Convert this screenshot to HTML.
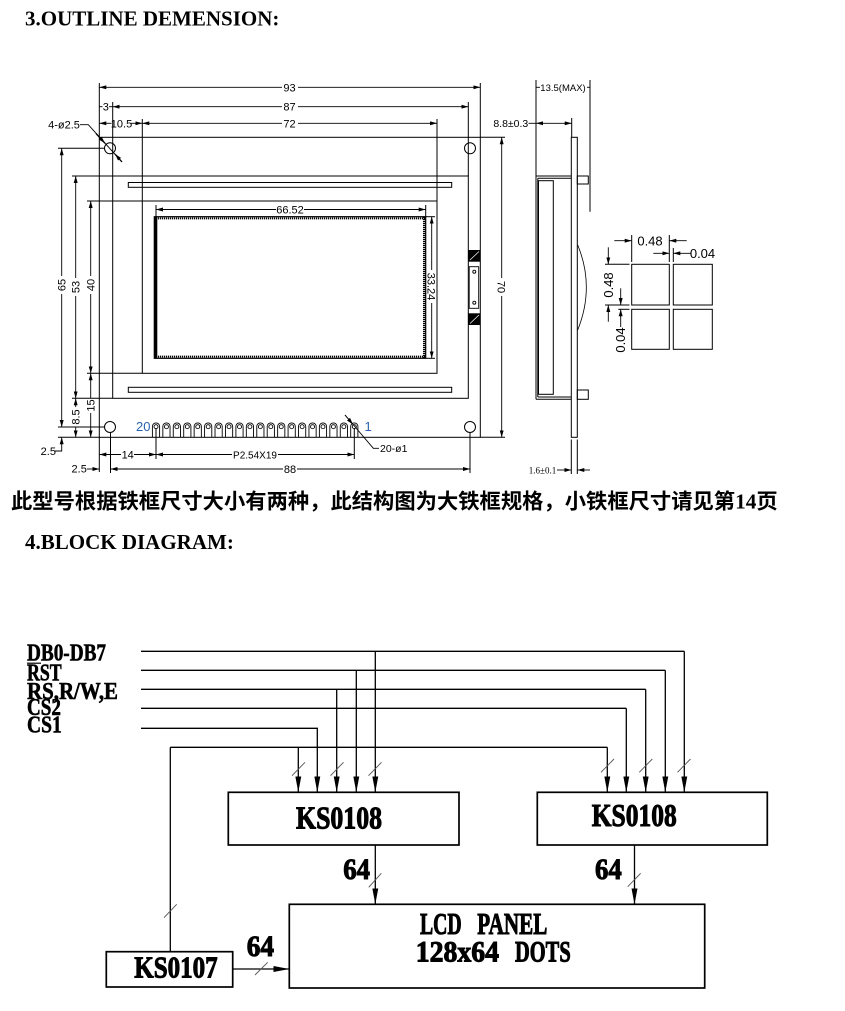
<!DOCTYPE html>
<html><head><meta charset="utf-8"><style>
html,body{margin:0;padding:0;background:#fff;}
svg{display:block;}
.t{font-family:"Liberation Sans",sans-serif;fill:#000;}
.s{font-family:"Liberation Serif","Noto Sans CJK SC",serif;font-weight:bold;fill:#000;}
</style></head><body>
<svg width="845" height="1011" viewBox="0 0 845 1011" xmlns="http://www.w3.org/2000/svg">
<defs>
 <marker id="d" viewBox="0 0 7 4" refX="7" refY="2" markerWidth="7" markerHeight="4" markerUnits="userSpaceOnUse" orient="auto-start-reverse"><path d="M0,0 L7,2 L0,4z" fill="#000"/></marker>
 <marker id="b" viewBox="0 0 16 6" refX="16" refY="3" markerWidth="16" markerHeight="6" markerUnits="userSpaceOnUse" orient="auto"><path d="M0,0 L16,3 L0,6z" fill="#000"/></marker>
 <g id="p"><path d="M-3.6,10.5V-0.5A3.6,3.6 0 0 1 3.6,-0.5V10.5" fill="none" stroke="#000" stroke-width="0.9"/><circle cx="0" cy="-0.3" r="2" fill="none" stroke="#000" stroke-width="0.9"/></g>
</defs>

<!-- Titles -->
<text class="s" x="25" y="25.3" font-size="21">3.OUTLINE DEMENSION:</text>
<text class="s" x="11" y="508.5" font-size="21.3" style="font-family:'Liberation Serif','Noto Sans CJK SC',sans-serif">此型号根据铁框尺寸大小有两种，此结构图为大铁框规格，小铁框尺寸请见第14页</text>
<text class="s" x="25" y="549" font-size="21">4.BLOCK DIAGRAM:</text>

<!-- ================= OUTLINE DRAWING ================= -->
<g stroke="#000" stroke-width="1" fill="none">
 <rect x="99.3" y="137.3" width="381" height="300"/>
 <rect x="112.7" y="176" width="355.6" height="222.3"/>
 <rect x="142.3" y="201" width="294.7" height="172.3"/>
 <rect x="128.3" y="182.5" width="323.4" height="4.8"/>
 <rect x="128.3" y="387.3" width="323.4" height="5"/>
 <rect x="154.3" y="216.7" width="271.4" height="141.6" stroke-width="1.2"/>
 <circle cx="110" cy="148.3" r="5.5"/>
 <circle cx="470" cy="148.3" r="5.5"/>
 <circle cx="110" cy="427" r="5.5"/>
 <circle cx="470" cy="427" r="5.5"/>
 <line x1="99.3" y1="83" x2="99.3" y2="137.3"/>
 <line x1="99.3" y1="437.3" x2="99.3" y2="472"/>
 <line x1="112.7" y1="102" x2="112.7" y2="176"/>
 <line x1="142.3" y1="119" x2="142.3" y2="201"/>
 <line x1="437" y1="119" x2="437" y2="201"/>
 <line x1="468.3" y1="102" x2="468.3" y2="176"/>
 <line x1="480.3" y1="83" x2="480.3" y2="137.3"/>
 <line x1="110.5" y1="432" x2="110.5" y2="473"/>
 <line x1="470" y1="432" x2="470" y2="473"/>
 <line x1="156" y1="428" x2="156" y2="459"/>
 <line x1="354.3" y1="428" x2="354.3" y2="459"/>
 <line x1="58" y1="148.3" x2="104.5" y2="148.3"/>
 <line x1="72" y1="176" x2="112.7" y2="176"/>
 <line x1="87" y1="201" x2="142.3" y2="201"/>
 <line x1="87" y1="373.3" x2="142.3" y2="373.3"/>
 <line x1="72" y1="398.3" x2="112.7" y2="398.3"/>
 <line x1="58" y1="427" x2="104.5" y2="427"/>
 <line x1="58" y1="437.3" x2="99.3" y2="437.3"/>
 <line x1="480.3" y1="137.3" x2="505" y2="137.3"/>
 <line x1="480.3" y1="437.3" x2="505" y2="437.3"/>
 <line x1="425.7" y1="205" x2="425.7" y2="216.7"/>
 <line x1="156" y1="205" x2="156" y2="216.7"/>
 <line x1="425.7" y1="216.7" x2="435" y2="216.7"/>
 <line x1="425.7" y1="358.3" x2="435" y2="358.3"/>
</g>
<line x1="155.8" y1="216.7" x2="155.8" y2="358.3" stroke="#000" stroke-width="3"/>
<line x1="156" y1="218.4" x2="425" y2="218.4" stroke="#000" stroke-width="2" stroke-dasharray="1.2,0.8"/>
<line x1="156" y1="356.6" x2="425" y2="356.6" stroke="#000" stroke-width="2" stroke-dasharray="1.2,0.8"/>
<line x1="424.3" y1="217" x2="424.3" y2="358" stroke="#000" stroke-width="2.6" stroke-dasharray="1.2,0.8"/>

<rect x="468.3" y="250" width="12" height="11.7" fill="#000"/>
<rect x="468.3" y="313.3" width="12" height="11.7" fill="#000"/>
<line x1="470" y1="260" x2="479" y2="251.5" stroke="#fff" stroke-width="0.7"/>
<line x1="470" y1="323.5" x2="479" y2="315" stroke="#fff" stroke-width="0.7"/>
<rect x="469.2" y="266.7" width="9.5" height="41.6" fill="none" stroke="#000" stroke-width="0.9"/>
<circle cx="474.3" cy="271.7" r="1.5" fill="none" stroke="#000" stroke-width="0.9"/>
<circle cx="474.3" cy="302.7" r="1.5" fill="none" stroke="#000" stroke-width="0.9"/>

<use href="#p" x="156" y="427"/><use href="#p" x="166.44" y="427"/><use href="#p" x="176.87" y="427"/><use href="#p" x="187.31" y="427"/><use href="#p" x="197.75" y="427"/><use href="#p" x="208.18" y="427"/><use href="#p" x="218.62" y="427"/><use href="#p" x="229.06" y="427"/><use href="#p" x="239.5" y="427"/><use href="#p" x="249.93" y="427"/><use href="#p" x="260.37" y="427"/><use href="#p" x="270.81" y="427"/><use href="#p" x="281.24" y="427"/><use href="#p" x="291.68" y="427"/><use href="#p" x="302.12" y="427"/><use href="#p" x="312.56" y="427"/><use href="#p" x="322.99" y="427"/><use href="#p" x="333.43" y="427"/><use href="#p" x="343.87" y="427"/><use href="#p" x="354.3" y="427"/>
<text x="136" y="431" font-size="13" style="font-family:'Liberation Sans',sans-serif" fill="#2a62b0">20</text>
<text x="364.5" y="431" font-size="13" style="font-family:'Liberation Sans',sans-serif" fill="#2a62b0">1</text>

<g stroke="#000" stroke-width="0.9" fill="none">
 <line x1="99.3" y1="87.3" x2="282" y2="87.3" marker-start="url(#d)"/>
 <line x1="298" y1="87.3" x2="480.3" y2="87.3" marker-end="url(#d)"/>
 <line x1="99.3" y1="106.7" x2="102.5" y2="106.7"/>
 <line x1="109" y1="106.7" x2="112.7" y2="106.7"/>
 <line x1="112.7" y1="106.7" x2="282" y2="106.7" marker-start="url(#d)"/>
 <line x1="298" y1="106.7" x2="468.3" y2="106.7" marker-end="url(#d)"/>
 <line x1="99.3" y1="123.3" x2="111.5" y2="123.3" marker-start="url(#d)"/>
 <line x1="131" y1="123.3" x2="142.3" y2="123.3" marker-end="url(#d)"/>
 <line x1="142.3" y1="123.3" x2="282" y2="123.3" marker-start="url(#d)"/>
 <line x1="298" y1="123.3" x2="437" y2="123.3" marker-end="url(#d)"/>
 <line x1="156" y1="209.5" x2="276" y2="209.5" marker-start="url(#d)"/>
 <line x1="304" y1="209.5" x2="425.7" y2="209.5" marker-end="url(#d)"/>
 <line x1="431.7" y1="216.7" x2="431.7" y2="270" marker-start="url(#d)"/>
 <line x1="431.7" y1="303" x2="431.7" y2="358.3" marker-end="url(#d)"/>
 <line x1="501.7" y1="137.3" x2="501.7" y2="278" marker-start="url(#d)"/>
 <line x1="501.7" y1="296" x2="501.7" y2="437.3" marker-end="url(#d)"/>
 <line x1="61.7" y1="148.3" x2="61.7" y2="276" marker-start="url(#d)"/>
 <line x1="61.7" y1="294" x2="61.7" y2="427" marker-end="url(#d)"/>
 <polyline points="55,451 61.7,451 61.7,437.3" marker-end="url(#d)"/>
 <line x1="75.7" y1="176" x2="75.7" y2="278" marker-start="url(#d)"/>
 <line x1="75.7" y1="296" x2="75.7" y2="398.3" marker-end="url(#d)"/>
 <line x1="75.7" y1="398.3" x2="75.7" y2="407" marker-start="url(#d)"/>
 <line x1="75.7" y1="427" x2="75.7" y2="437.3" marker-end="url(#d)"/>
 <line x1="90.7" y1="201" x2="90.7" y2="276" marker-start="url(#d)"/>
 <line x1="90.7" y1="294" x2="90.7" y2="373.3" marker-end="url(#d)"/>
 <line x1="90.7" y1="373.3" x2="90.7" y2="398" marker-start="url(#d)"/>
 <line x1="90.7" y1="413" x2="90.7" y2="437.3" marker-end="url(#d)"/>
 <line x1="99.3" y1="454.5" x2="121" y2="454.5" marker-start="url(#d)"/>
 <line x1="134" y1="454.5" x2="156" y2="454.5" marker-end="url(#d)"/>
 <line x1="156" y1="454.5" x2="232" y2="454.5" marker-start="url(#d)"/>
 <line x1="278" y1="454.5" x2="354.3" y2="454.5" marker-end="url(#d)"/>
 <line x1="87" y1="469" x2="99.3" y2="469" marker-end="url(#d)"/>
 <line x1="110.5" y1="469" x2="283" y2="469" marker-start="url(#d)"/>
 <line x1="297" y1="469" x2="470" y2="469" marker-end="url(#d)"/>
 <polyline points="80,124.7 88.3,124.7 121.7,161.7"/>
 <line x1="96" y1="133.5" x2="105" y2="143.3" marker-end="url(#d)" stroke-width="1.3"/>
 <line x1="122" y1="162" x2="115" y2="154" marker-end="url(#d)" stroke-width="1.3"/>
 <polyline points="345,415 373.3,448.3 379,448.3"/>
 <line x1="345" y1="415" x2="353" y2="424.5" marker-end="url(#d)"/>
</g>

<g class="t" font-size="11">
 <text x="289.5" y="91.3" text-anchor="middle">93</text>
 <text x="289.5" y="110.7" text-anchor="middle">87</text>
 <text x="289.5" y="127.3" text-anchor="middle">72</text>
 <text x="105.8" y="110.7" text-anchor="middle">3</text>
 <text x="121.5" y="127.3" text-anchor="middle">10.5</text>
 <text x="290" y="213.5" text-anchor="middle">66.52</text>
 <text x="64" y="128.5" text-anchor="middle" font-size="11">4-ø2.5</text>
 <text transform="translate(61.7,285) rotate(-90)" x="0" y="4" text-anchor="middle">65</text>
 <text transform="translate(75.7,287) rotate(-90)" x="0" y="4" text-anchor="middle">53</text>
 <text transform="translate(90.7,285) rotate(-90)" x="0" y="4" text-anchor="middle">40</text>
 <text transform="translate(75.7,417) rotate(-90)" x="0" y="4" text-anchor="middle">8.5</text>
 <text transform="translate(90.7,405.5) rotate(-90)" x="0" y="4" text-anchor="middle">15</text>
 <text transform="translate(431.7,286.5) rotate(90)" x="0" y="4" text-anchor="middle">33.24</text>
 <text transform="translate(501.7,287) rotate(90)" x="0" y="4" text-anchor="middle">70</text>
 <text x="48.3" y="455" text-anchor="middle">2.5</text>
 <text x="127.7" y="458.5" text-anchor="middle">14</text>
 <text x="79.2" y="472.5" text-anchor="middle">2.5</text>
 <text x="255" y="458.5" text-anchor="middle" font-size="10">P2.54X19</text>
 <text x="290" y="473" text-anchor="middle">88</text>
 <text x="380" y="452" font-size="10.5">20-ø1</text>
</g>

<g stroke="#000" stroke-width="1" fill="none">
 <line x1="536" y1="80" x2="536" y2="399.3"/>
 <line x1="590" y1="80" x2="590" y2="211.7"/>
 <line x1="536" y1="176" x2="571" y2="176"/>
 <line x1="536" y1="399.3" x2="571" y2="399.3"/>
 <line x1="537.8" y1="178.3" x2="571" y2="178.3"/>
 <line x1="537.8" y1="397" x2="571" y2="397"/>
 <line x1="537.8" y1="178.3" x2="537.8" y2="397"/>
 <rect x="538.5" y="180.7" width="14.8" height="213.6"/>
 <rect x="571.3" y="137.3" width="6" height="300"/>
 <rect x="577.3" y="176" width="11" height="8"/>
 <rect x="577.3" y="390" width="11" height="9.3"/>
 <path d="M577.7,245 Q595,287 577.7,330" stroke-width="0.8"/>
 <line x1="571.7" y1="118" x2="571.7" y2="137.3"/>
 <line x1="571.3" y1="439.5" x2="571.3" y2="474"/>
 <line x1="577.3" y1="439.5" x2="577.3" y2="474"/>
</g>
<g stroke="#000" stroke-width="0.9" fill="none">
 <line x1="536" y1="87.3" x2="540" y2="87.3"/>
 <line x1="587" y1="87.3" x2="590" y2="87.3"/>
 <line x1="528.5" y1="123.3" x2="536" y2="123.3"/>
 <line x1="545" y1="123.3" x2="536" y2="123.3" marker-end="url(#d)"/>
 <line x1="545" y1="123.3" x2="571.7" y2="123.3" marker-end="url(#d)"/>
 <line x1="557" y1="470" x2="571.3" y2="470" marker-end="url(#d)"/>
 <line x1="590" y1="470" x2="577.3" y2="470" marker-end="url(#d)"/>
</g>
<g class="t">
 <text x="563" y="90.8" text-anchor="middle" font-size="9.5">13.5(MAX)</text>
 <text x="510.8" y="127" text-anchor="middle" font-size="10.5">8.8±0.3</text>
 <text x="542.5" y="473.3" text-anchor="middle" font-size="9" style="font-family:'Liberation Serif',serif">1.6±0.1</text>
</g>

<g stroke="#000" stroke-width="1" fill="none">
 <rect x="631.7" y="264.3" width="37.6" height="40.7"/>
 <rect x="673.3" y="264.3" width="39" height="40.7"/>
 <rect x="631.7" y="309.3" width="37.6" height="40"/>
 <rect x="673.3" y="309.3" width="39" height="40"/>
 <line x1="631.7" y1="235" x2="631.7" y2="262"/>
 <line x1="669.3" y1="235" x2="669.3" y2="262"/>
 <line x1="673.3" y1="248" x2="673.3" y2="262"/>
 <line x1="605" y1="264.3" x2="629.5" y2="264.3"/>
 <line x1="605" y1="305" x2="629.5" y2="305"/>
 <line x1="618.3" y1="309.3" x2="629.5" y2="309.3"/>
</g>
<g stroke="#000" stroke-width="0.9" fill="none">
 <line x1="614.3" y1="240.7" x2="631.7" y2="240.7" marker-end="url(#d)"/>
 <line x1="686.7" y1="240.7" x2="669.3" y2="240.7" marker-end="url(#d)"/>
 <line x1="653.3" y1="253.3" x2="669.3" y2="253.3" marker-end="url(#d)"/>
 <line x1="691" y1="253.3" x2="673.3" y2="253.3" marker-end="url(#d)"/>
 <line x1="608.3" y1="247.3" x2="608.3" y2="264.3" marker-end="url(#d)"/>
 <line x1="608.3" y1="321.7" x2="608.3" y2="305" marker-end="url(#d)"/>
 <line x1="620.7" y1="288.3" x2="620.7" y2="305" marker-end="url(#d)"/>
 <line x1="620.7" y1="327" x2="620.7" y2="309.3" marker-end="url(#d)"/>
</g>
<g class="t" font-size="13" fill="#222">
 <text x="650" y="245.5" text-anchor="middle">0.48</text>
 <text x="702.5" y="258" text-anchor="middle">0.04</text>
 <text transform="translate(608.3,285) rotate(-90)" x="0" y="4.5" text-anchor="middle">0.48</text>
 <text transform="translate(620.7,340) rotate(-90)" x="0" y="4.5" text-anchor="middle">0.04</text>
</g>

<!-- ================= BLOCK DIAGRAM ================= -->
<g class="s" font-size="24" stroke="#000" stroke-width="0.6">
 <text x="27" y="660.7" textLength="79" lengthAdjust="spacingAndGlyphs">DB0-DB7</text>
 <text x="27" y="680.5" textLength="34.7" lengthAdjust="spacingAndGlyphs">RST</text>
 <text x="27" y="699" textLength="91" lengthAdjust="spacingAndGlyphs">RS,R/W,E</text>
 <text x="27" y="715" textLength="34" lengthAdjust="spacingAndGlyphs">CS2</text>
 <text x="27" y="732.7" textLength="34.7" lengthAdjust="spacingAndGlyphs">CS1</text>
</g>
<line x1="27" y1="663.2" x2="41" y2="663.2" stroke="#000" stroke-width="1.2"/>

<g stroke="#000" stroke-width="1.3" fill="none">
 <line x1="141" y1="651.3" x2="684.3" y2="651.3"/>
 <line x1="141" y1="670.3" x2="665.3" y2="670.3"/>
 <line x1="141" y1="689.3" x2="645.7" y2="689.3"/>
 <line x1="141" y1="708.3" x2="626.3" y2="708.3"/>
 <polyline points="141,728.3 317.3,728.3 317.3,792.3" marker-end="url(#b)"/>
 <line x1="170.3" y1="747.3" x2="607.3" y2="747.3"/>
 <line x1="170.3" y1="747.3" x2="170.3" y2="951.7"/>
 <line x1="298.3" y1="747.3" x2="298.3" y2="792.3" marker-end="url(#b)"/>
 <line x1="336.7" y1="689.3" x2="336.7" y2="792.3" marker-end="url(#b)"/>
 <line x1="356.3" y1="670.3" x2="356.3" y2="792.3" marker-end="url(#b)"/>
 <line x1="375.3" y1="651.3" x2="375.3" y2="792.3" marker-end="url(#b)"/>
 <line x1="607.3" y1="747.3" x2="607.3" y2="792.3" marker-end="url(#b)"/>
 <line x1="626.3" y1="708.3" x2="626.3" y2="792.3" marker-end="url(#b)"/>
 <line x1="645.7" y1="689.3" x2="645.7" y2="792.3" marker-end="url(#b)"/>
 <line x1="665.3" y1="670.3" x2="665.3" y2="792.3" marker-end="url(#b)"/>
 <line x1="684.3" y1="651.3" x2="684.3" y2="792.3" marker-end="url(#b)"/>
 <line x1="375.3" y1="845" x2="375.3" y2="904.3" marker-end="url(#b)"/>
 <line x1="634.5" y1="845" x2="634.5" y2="904.3" marker-end="url(#b)"/>
 <line x1="232.7" y1="969" x2="289.3" y2="969" marker-end="url(#b)"/>
</g>
<g stroke="#000" stroke-width="1.7" fill="none">
 <rect x="228.3" y="792.3" width="230.7" height="52.7"/>
 <rect x="537.3" y="792.3" width="230" height="52.7"/>
 <rect x="289.3" y="904.3" width="415.4" height="83.7"/>
 <rect x="106.3" y="951.7" width="126.4" height="35.3"/>
</g>
<g stroke="#555" stroke-width="0.9">
 <line x1="292" y1="775.7" x2="305" y2="762.3"/>
 <line x1="330.5" y1="775.7" x2="343.5" y2="762.3"/>
 <line x1="368.5" y1="775.7" x2="381.5" y2="762.3"/>
 <line x1="601" y1="772.3" x2="614" y2="759"/>
 <line x1="639.3" y1="772.3" x2="652.3" y2="759"/>
 <line x1="677.5" y1="772.3" x2="690.5" y2="759"/>
 <line x1="368.7" y1="887.3" x2="381.3" y2="873.3"/>
 <line x1="627.7" y1="886.7" x2="640.7" y2="873.3"/>
 <line x1="164" y1="917.7" x2="176.7" y2="904.3"/>
 <line x1="255" y1="975" x2="267.7" y2="962.3"/>
</g>
<g class="s" stroke="#000" stroke-width="1">
 <text x="296" y="828.3" font-size="32" textLength="86" lengthAdjust="spacingAndGlyphs">KS0108</text>
 <text x="591.7" y="826" font-size="32" textLength="85" lengthAdjust="spacingAndGlyphs">KS0108</text>
 <text x="134.3" y="977.7" font-size="31" textLength="83.4" lengthAdjust="spacingAndGlyphs">KS0107</text>
 <text x="343.3" y="879" font-size="30" textLength="26.7" lengthAdjust="spacingAndGlyphs">64</text>
 <text x="595" y="879" font-size="30" textLength="26.7" lengthAdjust="spacingAndGlyphs">64</text>
 <text x="246.7" y="956" font-size="30" textLength="27.3" lengthAdjust="spacingAndGlyphs">64</text>
 <text x="420" y="934" font-size="31" textLength="41.7" lengthAdjust="spacingAndGlyphs">LCD</text>
 <text x="477.3" y="934" font-size="31" textLength="70" lengthAdjust="spacingAndGlyphs">PANEL</text>
 <text x="415.7" y="961.7" font-size="30" textLength="83.3" lengthAdjust="spacingAndGlyphs">128x64</text>
 <text x="515" y="961.7" font-size="30" textLength="55.7" lengthAdjust="spacingAndGlyphs">DOTS</text>
</g>
</svg>
</body></html>
